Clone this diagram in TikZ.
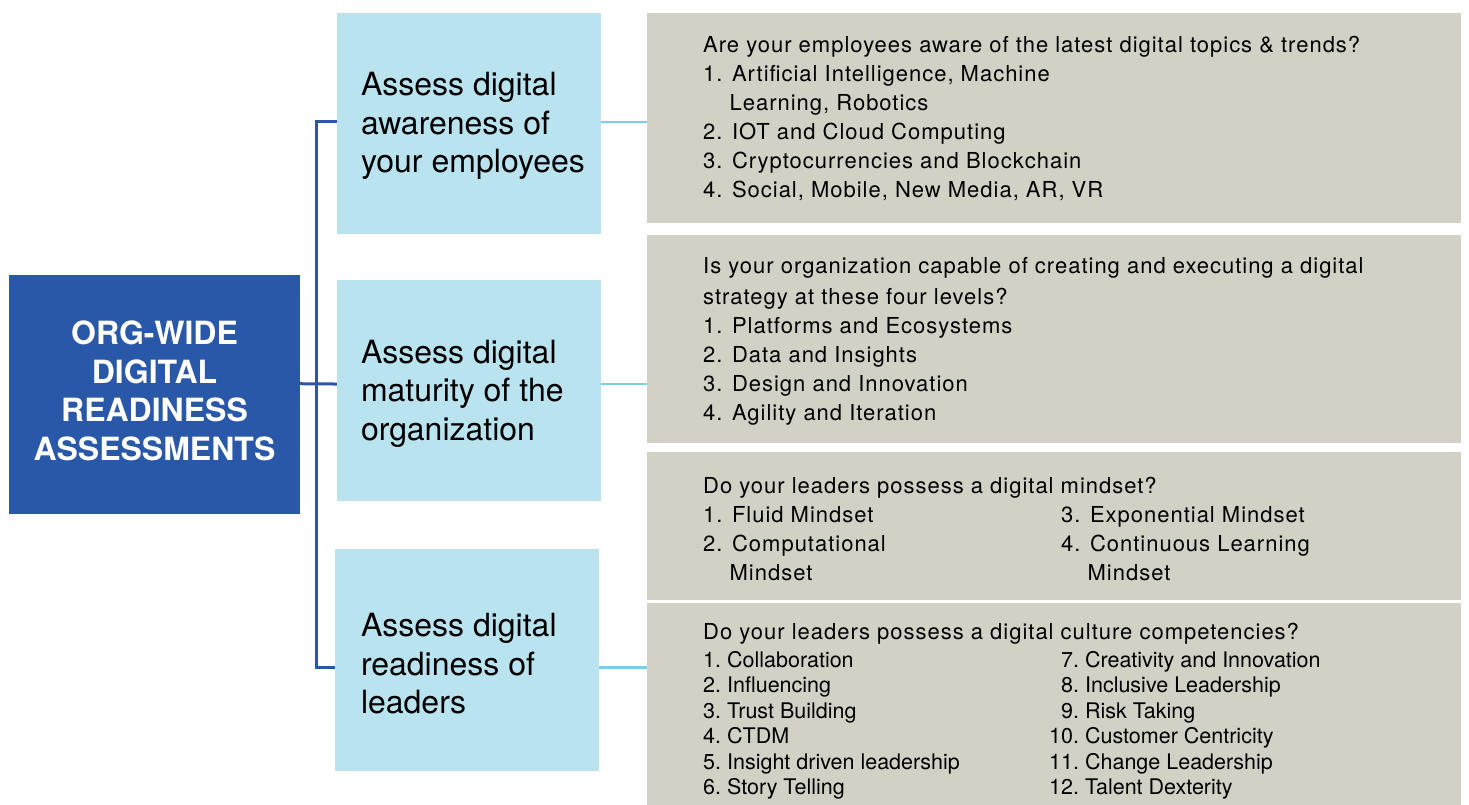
\documentclass[tikz,border=0pt]{standalone}
\usepackage{fontspec}
\setmainfont{TeX Gyre Heros}
\newfontfamily\qfont[LetterSpace=4.5]{TeX Gyre Heros}
\usetikzlibrary{calc}
\usetikzlibrary{positioning}

\definecolor{orgblue}{HTML}{2A58A8}
\definecolor{assessblue}{HTML}{B8E3EF}
\definecolor{panelgrey}{HTML}{D3D0C5}
\definecolor{linkcyan}{HTML}{7DCFE0}

% lines stacked with the first baseline as the node's base
\newcommand{\txtlines}[1]{\begin{tabular}[t]{@{}l@{}}#1\end{tabular}}

\tikzset{
  orgbox/.style={fill=orgblue, text=white, inner sep=0pt, align=center,
    minimum width=291pt, minimum height=239pt,
    font=\bfseries\fontsize{32}{38.5}\selectfont},
  assessbox/.style={fill=assessblue, inner sep=0pt,
    minimum width=264pt, minimum height=221pt},
  assesstext/.style={anchor=base west, inner sep=0pt,
    font=\fontsize{32}{38.5}\selectfont},
  panel/.style={fill=panelgrey, inner sep=0pt, anchor=north west,
    minimum width=814pt},
  qtext/.style={anchor=base west, inner sep=0pt,
    font=\qfont\fontsize{22}{29}\selectfont},
  ctext/.style={anchor=base west, inner sep=0pt,
    font=\fontsize{21.5}{25.5}\selectfont},
  spine/.style={draw=orgblue, line width=3pt},
  link/.style={draw=linkcyan, line width=2.8pt}
}

\begin{document}
\begin{tikzpicture}[x=1pt, y=-1pt]
  \useasboundingbox (0,0) rectangle (1469,805);

  \node[orgbox] (org) at (154.5,394.5)
    {ORG-WIDE\\DIGITAL\\READINESS\\ASSESSMENTS\rule[-8pt]{0pt}{8pt}};

  \node[assessbox] (aware) at (469,123.5) {};
  \node[assessbox] (mature) at (469,390) {};
  \node[assessbox, minimum height=222pt] (ready) at (467,660) {};

  \node[assesstext] (aware_txt) at ($(aware.north west)+(24,83)$)
    {\txtlines{Assess digital\\awareness of\\your employees}};
  \node[assesstext] (mature_txt) at ($(mature.north west)+(24,84)$)
    {\txtlines{Assess digital\\maturity of the\\organization}};
  \node[assesstext] (ready_txt) at ($(ready.north west)+(26,88)$)
    {\txtlines{Assess digital\\readiness of\\leaders}};

  \node[panel, minimum height=210pt] (p1) at (647,13) {};
  \node[panel, minimum height=208pt, below=11pt of p1] (p2) {};
  \node[panel, minimum height=148pt, below=9pt of p2] (p3) {};
  \node[panel, minimum height=203pt, below=3pt of p3] (p4) {};

  \node[qtext] (q1) at ($(p1.north west)+(56,40)$) {\txtlines{%
    Are your employees aware of the latest digital topics \& trends?\\
    1. Artificial Intelligence, Machine\\
    \hphantom{1.\ }Learning, Robotics\\
    2. IOT and Cloud Computing\\
    3. Cryptocurrencies and Blockchain\\
    4. Social, Mobile, New Media, AR, VR}};

  \node[qtext] (q2) at ($(p2.north west)+(56,39)$) {\txtlines{%
    Is your organization capable of creating and executing a digital\\[2pt]
    strategy at these four levels?\\
    1. Platforms and Ecosystems\\
    2. Data and Insights\\
    3. Design and Innovation\\
    4. Agility and Iteration}};

  \node[qtext] (q3) at ($(p3.north west)+(56,42)$) {\txtlines{%
    Do your leaders possess a digital mindset?\\
    1. Fluid Mindset\\
    2. Computational\\
    \hphantom{2.\ }Mindset}};
  \node[qtext] (q3b) at ($(p3.north west)+(414,71)$) {\txtlines{%
    3. Exponential Mindset\\
    4. Continuous Learning\\
    \hphantom{4.\ }Mindset}};

  \node[qtext] (q4) at ($(p4.north west)+(56,36)$)
    {Do your leaders possess a digital culture competencies?};
  \node[ctext] (q4a) at ($(p4.north west)+(56,64)$) {%
    \begin{tabular}[t]{@{}r@{\ }l@{}}
      1. & Collaboration\\
      2. & Influencing\\
      3. & Trust Building\\
      4. & CTDM\\
      5. & Insight driven leadership\\
      6. & Story Telling
    \end{tabular}};
  \node[ctext] (q4b) at ($(p4.north west)+(402,64)$) {%
    \begin{tabular}[t]{@{}r@{\ }l@{}}
      7. & Creativity and Innovation\\
      8. & Inclusive Leadership\\
      9. & Risk Taking\\
      10. & Customer Centricity\\
      11. & Change Leadership\\
      12. & Talent Dexterity
    \end{tabular}};

  \coordinate (org_out) at ($(org.north east)!0.455!(org.south east)$);
  \coordinate (aware_in) at ($(aware.north west)!0.493!(aware.south west)$);
  \coordinate (mature_in) at ($(mature.north west)!0.473!(mature.south west)$);
  \coordinate (ready_in) at ($(ready.north west)!0.532!(ready.south west)$);
  \coordinate (aware_out) at ($(aware.north east)!0.493!(aware.south east)$);
  \coordinate (mature_out) at ($(mature.north east)!0.473!(mature.south east)$);
  \coordinate (ready_out) at ($(ready.north east)!0.532!(ready.south east)$);
  \coordinate (spine_top) at ($(aware_in)+(-20,0)$);

  \draw[spine] (aware_in) -- (spine_top) |- (ready_in);
  \draw[spine] (org_out) -- (mature_in);

  \draw[link] (aware_out) -- (aware_out -| p1.west);
  \draw[link] (mature_out) -- (mature_out -| p2.west);
  \draw[link] (ready_out) -- (ready_out -| p4.west);
\end{tikzpicture}
\end{document}
